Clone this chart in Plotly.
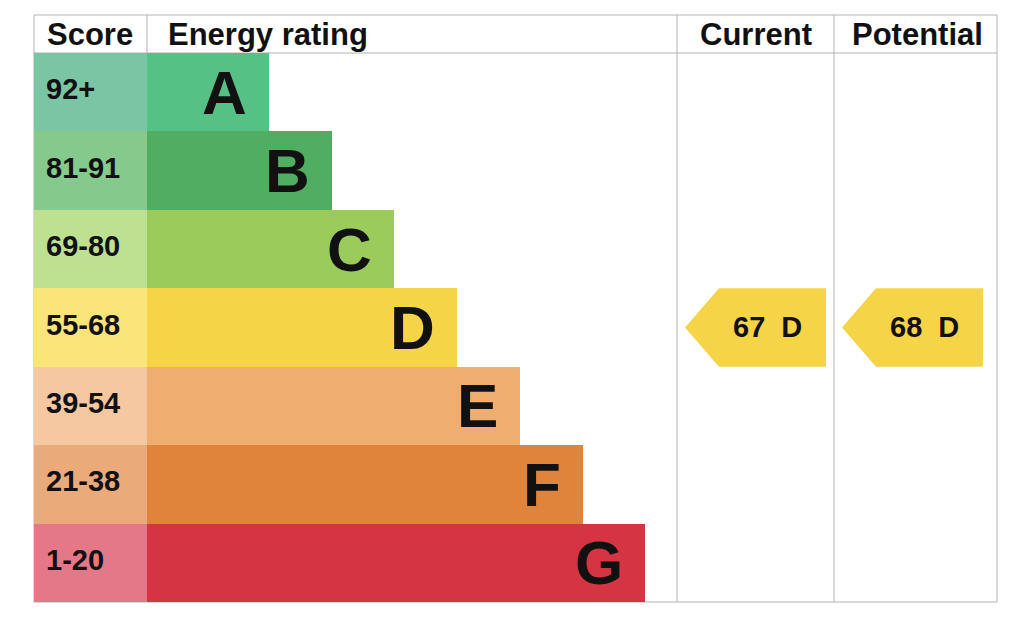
import plotly.graph_objects as go

# EPC bands, top (best) to bottom (worst)
bands = ["A", "B", "C", "D", "E", "F", "G"]
score_ranges = ["92+", "81-91", "69-80", "55-68", "39-54", "21-38", "1-20"]
band_min_score = [92, 81, 69, 55, 39, 21, 1]
bar_colors = ["#55c185", "#50ae63", "#9bcb5a", "#f6d448", "#efad70", "#e0843b", "#d53443"]
tint_colors = ["#7cc5a4", "#86c98d", "#bde091", "#fbe47a", "#f5c8a2", "#eaaa79", "#e47888"]

headers = ["Score", "Energy rating", "Current", "Potential"]
current_score = 67
potential_score = 68

# layout (x in pixels, y in row units)
col_edges = [34, 147, 677, 834, 997]
row_px = 78.43
header_px = 38
body_top_px = 53
page_offset = 8  # default body margin of the html page
bar_start = col_edges[1]
bar_first = 122
bar_step = 62.7
font = "Liberation Sans, Arial, Helvetica, sans-serif"
line_col = "#b3b3b3"


def band_of(score):
    for i, m in enumerate(band_min_score):
        if score >= m:
            return i
    return len(bands) - 1


rows = [i + 0.5 for i in range(len(bands))]
bar_lens = [bar_first + bar_step * i for i in range(len(bands))]

fig = go.Figure()

# score column tints
fig.add_trace(go.Bar(
    orientation="h", y=rows, x=[col_edges[1] - col_edges[0]] * len(bands),
    base=col_edges[0], width=1, marker=dict(color=tint_colors, line=dict(width=0)),
    hoverinfo="skip", showlegend=False,
))
# rating bars
fig.add_trace(go.Bar(
    orientation="h", y=rows, x=bar_lens, base=bar_start, width=1,
    marker=dict(color=bar_colors, line=dict(width=0)),
    hoverinfo="skip", showlegend=False,
))

annotations = []
for i, b in enumerate(bands):
    annotations.append(dict(
        x=bar_start + bar_lens[i], y=rows[i], text=f"<b>{b}</b>", showarrow=False,
        xanchor="right", yanchor="middle", xshift=-20, yshift=0,
        font=dict(family=font, size=62, color="#111111"),
    ))
    annotations.append(dict(
        x=col_edges[0], y=rows[i], text=f"<b>{score_ranges[i]}</b>", showarrow=False,
        xanchor="left", yanchor="middle", xshift=10, yshift=3,
        font=dict(family=font, size=29, color="#111111"),
    ))

# header texts
head_y = -header_px / 2 / row_px
head_x = [col_edges[0] + 11, col_edges[1] + 19, (col_edges[2] + col_edges[3]) / 2,
          (col_edges[3] + col_edges[4]) / 2 + 2]
head_anchor = ["left", "left", "center", "center"]
for h, hx, ha in zip(headers, head_x, head_anchor):
    annotations.append(dict(
        x=hx, y=head_y, text=f"<b>{h}</b>", showarrow=False, xanchor=ha, yanchor="middle",
        yshift=0, font=dict(family=font, size=31, color="#111111"),
    ))

# current / potential arrows
arrow_w = 141
arrow_tip = 34
for score, col in [(current_score, 2), (potential_score, 3)]:
    i = band_of(score)
    left = col_edges[col] + 8
    right = left + arrow_w
    shoulder = left + arrow_tip
    fig.add_trace(go.Scatter(
        x=[left, shoulder, right, right, shoulder, left],
        y=[rows[i], i, i, i + 1, i + 1, rows[i]],
        mode="lines", fill="toself", fillcolor=bar_colors[i], line=dict(width=0, color=bar_colors[i]),
        hoverinfo="skip", showlegend=False,
    ))
    annotations.append(dict(
        x=(shoulder + right) / 2 - 5, y=rows[i], text=f"<b>{score}\u00a0\u00a0{bands[i]}</b>",
        showarrow=False, xanchor="center", yanchor="middle", yshift=1,
        font=dict(family=font, size=29, color="#111111"),
    ))

# table frame lines
top = -header_px / row_px
bottom = len(bands)
shapes = []
for y in [top, 0, bottom]:
    shapes.append(dict(type="line", x0=col_edges[0], x1=col_edges[-1], y0=y, y1=y,
                       line=dict(color=line_col, width=1), layer="below"))
for x in [col_edges[0], col_edges[2], col_edges[3], col_edges[4]]:
    shapes.append(dict(type="line", x0=x, x1=x, y0=top, y1=bottom,
                       line=dict(color=line_col, width=1), layer="below"))
shapes.append(dict(type="line", x0=col_edges[1], x1=col_edges[1], y0=top, y1=0,
                   line=dict(color=line_col, width=1), layer="below"))

y_lo = (page_offset - body_top_px) / row_px
y_hi = (630 + page_offset - body_top_px) / row_px

fig.update_layout(
    width=1024, height=630, margin=dict(l=0, r=0, t=0, b=0),
    paper_bgcolor="white", plot_bgcolor="white", barmode="overlay", bargap=0,
    xaxis=dict(range=[page_offset, 1024 + page_offset], visible=False, fixedrange=True),
    yaxis=dict(range=[y_hi, y_lo], visible=False, fixedrange=True),
    shapes=shapes, annotations=annotations,
)

fig.write_html("out.html")
